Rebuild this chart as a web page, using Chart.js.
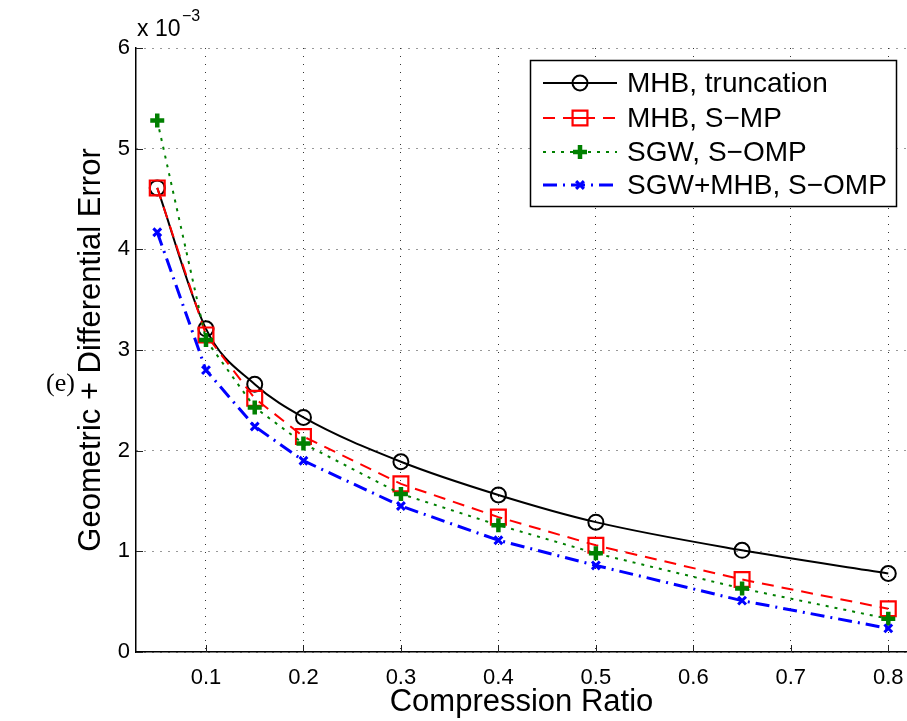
<!DOCTYPE html>
<html>
<head>
<meta charset="utf-8">
<script src="https://cdn.jsdelivr.net/npm/chart.js@4.4.1/dist/chart.umd.min.js"></script>
<style>
  html, body { margin: 0; padding: 0; background: #fff; overflow: hidden; }
  #wrap { width: 907px; height: 721px; }
  canvas { display: block; }
</style>
</head>
<body>
<div id="wrap"><canvas id="errChart" width="907" height="721"></canvas></div>
<script>
// compression ratios (x) and errors in units of 1e-3 (y)
const ratios = [0.05, 0.1, 0.15, 0.2, 0.3, 0.4, 0.5, 0.65, 0.8];
const mhbTruncation = [4.61, 3.21, 2.66, 2.33, 1.89, 1.56, 1.29, 1.01, 0.78];
const mhbSmp = [4.61, 3.15, 2.52, 2.14, 1.67, 1.34, 1.06, 0.72, 0.43];
const sgwSomp = [5.28, 3.10, 2.43, 2.07, 1.57, 1.26, 0.98, 0.63, 0.33];
const sgwMhbSomp = [4.17, 2.80, 2.24, 1.90, 1.45, 1.11, 0.86, 0.51, 0.235];

const xTicks = [0.1, 0.2, 0.3, 0.4, 0.5, 0.6, 0.7, 0.8];
const yTicks = [0, 1, 2, 3, 4, 5, 6];
const seriesNames = ['MHB, truncation', 'MHB, S\u2212MP', 'SGW, S\u2212OMP', 'SGW+MHB, S\u2212OMP'];

const FONT = '"Liberation Sans", Arial, Helvetica, sans-serif';

function pts(ys) {
    return ratios.map((x, i) => ({ x: x, y: ys[i] }));
}

const datasets = [
    {
        label: seriesNames[0],
        data: pts(mhbTruncation),
        borderColor: '#000000',
        backgroundColor: 'rgba(0,0,0,0)',
        borderWidth: 2,
        pointStyle: 'circle',
        pointRadius: 7.5,
        pointBorderWidth: 2,
        cubicInterpolationMode: 'monotone',
        order: 4
    },
    {
        label: seriesNames[1],
        data: pts(mhbSmp),
        borderColor: '#ff0000',
        backgroundColor: 'rgba(0,0,0,0)',
        borderWidth: 2,
        borderDash: [12, 8],
        pointStyle: 'rect',
        pointRadius: 10.5,
        pointBorderWidth: 2.2,
        order: 3
    },
    {
        label: seriesNames[2],
        data: pts(sgwSomp),
        borderColor: '#008000',
        backgroundColor: '#008000',
        borderWidth: 2,
        borderDash: [3, 6],
        pointStyle: 'cross',
        pointRadius: 7,
        pointBorderWidth: 4.5,
        order: 2
    },
    {
        label: seriesNames[3],
        data: pts(sgwMhbSomp),
        borderColor: '#0000ff',
        backgroundColor: '#0000ff',
        borderWidth: 3,
        borderDash: [14, 6, 2, 6],
        pointStyle: 'crossRot',
        pointRadius: 5.5,
        pointBorderWidth: 3,
        order: 1
    }
];

// inside tick marks, exponent label, panel tag and the boxed legend
const decorations = {
    id: 'decorations',
    afterDraw(chart) {
        const ctx = chart.ctx;
        const xs = chart.scales.x, ys = chart.scales.y;
        const area = chart.chartArea;
        ctx.save();

        ctx.strokeStyle = '#222';
        ctx.lineWidth = 1;
        ctx.setLineDash([]);
        xTicks.forEach(v => {
            const px = Math.round(xs.getPixelForValue(v)) + 0.5;
            ctx.beginPath();
            ctx.moveTo(px, area.bottom);
            ctx.lineTo(px, area.bottom - 7);
            ctx.stroke();
        });
        yTicks.forEach(v => {
            const py = Math.round(ys.getPixelForValue(v)) + 0.5;
            ctx.beginPath();
            ctx.moveTo(area.left, py);
            ctx.lineTo(area.left + 7, py);
            ctx.stroke();
        });

        // exponent
        ctx.fillStyle = '#000';
        ctx.textBaseline = 'alphabetic';
        ctx.textAlign = 'left';
        ctx.font = '23px ' + FONT;
        ctx.fillText('x 10', 137, 36);
        ctx.font = '16px ' + FONT;
        ctx.fillText('\u22123', 182, 21);

        // panel tag
        ctx.font = '26px "Liberation Serif", "Times New Roman", serif';
        ctx.textBaseline = 'middle';
        ctx.fillText('(e)', 46, 384);

        // legend box
        const box = { x: 530.5, y: 60.5, w: 366, h: 146 };
        ctx.fillStyle = '#fff';
        ctx.fillRect(box.x, box.y, box.w, box.h);
        ctx.strokeStyle = '#000';
        ctx.lineWidth = 1.5;
        ctx.strokeRect(box.x, box.y, box.w, box.h);

        const rowsY = [83, 118, 152, 185];
        chart.data.datasets.forEach((ds, i) => {
            const y = rowsY[i];
            ctx.strokeStyle = ds.borderColor;
            ctx.lineWidth = ds.borderWidth;
            ctx.setLineDash(ds.borderDash || []);
            ctx.beginPath();
            ctx.moveTo(543, y);
            ctx.lineTo(617, y);
            ctx.stroke();
            ctx.setLineDash([]);
            ctx.lineWidth = ds.pointBorderWidth;
            ctx.fillStyle = ds.backgroundColor;
            Chart.helpers.drawPoint(ctx, {
                pointStyle: ds.pointStyle,
                radius: ds.pointRadius,
                rotation: 0,
                borderWidth: ds.pointBorderWidth
            }, 580, y);
            if (ds.pointStyle === 'circle' || ds.pointStyle === 'rect') {
                ctx.lineWidth = ds.borderWidth;
                ctx.beginPath();
                ctx.moveTo(580 - ds.pointRadius * 0.7, y);
                ctx.lineTo(580 + ds.pointRadius * 0.7, y);
                ctx.stroke();
            }
            ctx.fillStyle = '#000';
            ctx.font = '28px ' + FONT;
            ctx.textBaseline = 'middle';
            ctx.fillText(ds.label, 627, y + 1);
        });

        ctx.restore();
    }
};

const ctx = document.getElementById('errChart').getContext('2d');
const errChart = new Chart(ctx, {
    type: 'line',
    data: { datasets: datasets },
    options: {
        responsive: false,
        animation: false,
        layout: { autoPadding: false, padding: { top: 48, right: 0, bottom: 0, left: 0 } },
        elements: {
            line: { fill: false, tension: 0 },
            point: { hoverRadius: 0 }
        },
        plugins: {
            legend: { display: false },
            tooltip: { enabled: false }
        },
        scales: {
            x: {
                type: 'linear',
                min: 0.0282,
                max: 0.8192,
                afterBuildTicks: scale => { scale.ticks = xTicks.map(v => ({ value: v })); },
                afterFit: scale => {
                    scale.height = 69;
                    scale.paddingLeft = 0;
                    scale.paddingRight = 0;
                },
                ticks: {
                    color: '#000',
                    font: { family: FONT, size: 22 },
                    padding: 13,
                    maxRotation: 0,
                    callback: v => String(v)
                },
                grid: { color: '#333', lineWidth: 1, drawTicks: false },
                border: { display: true, color: '#000', width: 1.5, dash: [1, 7] },
                title: {
                    display: true,
                    text: 'Compression Ratio',
                    color: '#000',
                    font: { family: FONT, size: 31 },
                    padding: { top: 0, bottom: 0 }
                }
            },
            y: {
                type: 'linear',
                min: 0,
                max: 6,
                afterBuildTicks: scale => { scale.ticks = yTicks.map(v => ({ value: v })); },
                afterFit: scale => {
                    scale.width = 136;
                    scale.paddingTop = 0;
                    scale.paddingBottom = 0;
                },
                ticks: {
                    color: '#000',
                    font: { family: FONT, size: 22 },
                    padding: 6
                },
                grid: { color: '#333', lineWidth: 1, drawTicks: false },
                border: { display: true, color: '#000', width: 1.5, dash: [1, 7] },
                title: {
                    display: true,
                    text: 'Geometric + Differential Error',
                    color: '#000',
                    font: { family: FONT, size: 31 },
                    padding: { top: 73, bottom: 0 }
                }
            }
        }
    },
    plugins: [decorations]
});
</script>
</body>
</html>
